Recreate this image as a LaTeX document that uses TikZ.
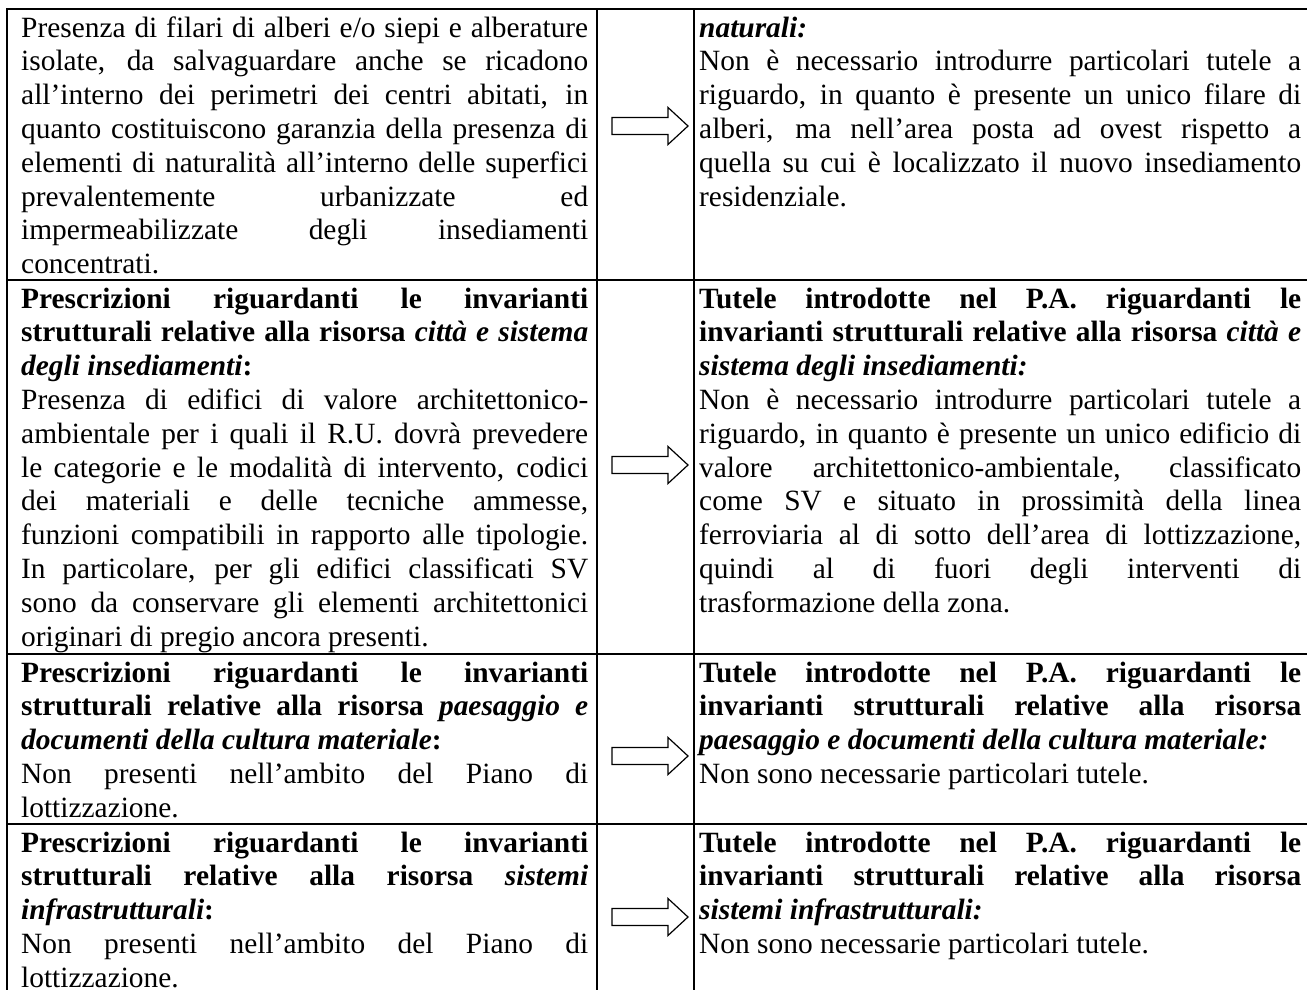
\documentclass[tikz,border=0pt]{standalone}
\usepackage{fontspec}
\setmainfont{Liberation Serif}[Ligatures=CommonOff]
\newcommand\cs{\rule[-7.4pt]{0pt}{33.8pt}}
\newcommand\J[1]{\hbox to\hsize{\cs#1}}
\newcommand\Lf[1]{\hbox{\cs#1}}
\newcommand\bi[1]{\textbf{\textit{#1}}}
\newcommand\cellbox[2]{\vtop{\hsize=#1\baselineskip=33.8pt\lineskip=0pt\lineskiplimit=0pt #2}}
\tikzset{
  cell/.style={anchor=north west, inner sep=0pt, font=\fontsize{29.4}{33.8}\selectfont},
  grid/.style={line width=1.8pt, line cap=rect},
  blockarr/.pic={\draw[line width=1.2pt, fill=white, line join=miter]
    (-38,-8.5) -- (18,-8.5) -- (18,-18.5) -- (38,0) -- (18,18.5) -- (18,8.5) -- (-38,8.5) -- cycle;}
}
\begin{document}
\begin{tikzpicture}[x=1pt,y=-1pt]
\useasboundingbox (0,0) rectangle (1307,989);
% grid
\draw[grid] (7,9) -- (1330,9);
\draw[grid] (7,280) -- (1330,280);
\draw[grid] (7,654) -- (1330,654);
\draw[grid] (7,824) -- (1330,824);
\draw[grid] (7,9) -- (7,1010);
\draw[grid] (597,9) -- (597,1010);
\draw[grid] (694,9) -- (694,1010);
% row 1
\node[cell] (l1) at (21,10.5) {\cellbox{567pt}{%
\J{Presenza di filari di alberi e/o siepi e alberature}
\J{isolate, da salvaguardare anche se ricadono}
\J{all’interno dei perimetri dei centri abitati, in}
\J{quanto costituiscono garanzia della presenza di}
\J{elementi di naturalità all’interno delle superfici}
\J{prevalentemente urbanizzate ed}
\J{impermeabilizzate degli insediamenti}
\Lf{concentrati.}}};
\node[cell] (r1) at (699,10.5) {\cellbox{602pt}{%
\Lf{\bi{naturali:}}
\J{Non è necessario introdurre particolari tutele a}
\J{riguardo, in quanto è presente un unico filare di}
\J{alberi, ma nell’area posta ad ovest rispetto a}
\J{quella su cui è localizzato il nuovo insediamento}
\Lf{residenziale.}}};
% row 2
\node[cell] (l2) at (21,281.5) {\cellbox{567pt}{%
\J{\textbf{Prescrizioni riguardanti le invarianti}}
\J{\textbf{strutturali relative alla risorsa} \bi{città e sistema}}
\Lf{\bi{degli insediamenti}\textbf{:}}
\J{Presenza di edifici di valore architettonico-}
\J{ambientale per i quali il R.U. dovrà prevedere}
\J{le categorie e le modalità di intervento, codici}
\J{dei materiali e delle tecniche ammesse,}
\J{funzioni compatibili in rapporto alle tipologie.}
\J{In particolare, per gli edifici classificati SV}
\J{sono da conservare gli elementi architettonici}
\Lf{originari di pregio ancora presenti.}}};
\node[cell] (r2) at (699,281.5) {\cellbox{602pt}{%
\J{\textbf{Tutele introdotte nel P.A. riguardanti le}}
\J{\textbf{invarianti strutturali relative alla risorsa} \bi{città e}}
\Lf{\bi{sistema degli insediamenti:}}
\J{Non è necessario introdurre particolari tutele a}
\J{riguardo, in quanto è presente un unico edificio di}
\J{valore architettonico-ambientale, classificato}
\J{come SV e situato in prossimità della linea}
\J{ferroviaria al di sotto dell’area di lottizzazione,}
\J{quindi al di fuori degli interventi di}
\Lf{trasformazione della zona.}}};
% row 3
\node[cell] (l3) at (21,655.5) {\cellbox{567pt}{%
\J{\textbf{Prescrizioni riguardanti le invarianti}}
\J{\textbf{strutturali relative alla risorsa} \bi{paesaggio e}}
\Lf{\bi{documenti della cultura materiale}\textbf{:}}
\J{Non presenti nell’ambito del Piano di}
\Lf{lottizzazione.}}};
\node[cell] (r3) at (699,655.5) {\cellbox{602pt}{%
\J{\textbf{Tutele introdotte nel P.A. riguardanti le}}
\J{\textbf{invarianti strutturali relative alla risorsa}}
\Lf{\bi{paesaggio e documenti della cultura materiale:}}
\Lf{Non sono necessarie particolari tutele.}}};
% row 4
\node[cell] (l4) at (21,825.5) {\cellbox{567pt}{%
\J{\textbf{Prescrizioni riguardanti le invarianti}}
\J{\textbf{strutturali relative alla risorsa} \bi{sistemi}}
\Lf{\bi{infrastrutturali}\textbf{:}}
\J{Non presenti nell’ambito del Piano di}
\Lf{lottizzazione.}}};
\node[cell] (r4) at (699,825.5) {\cellbox{602pt}{%
\J{\textbf{Tutele introdotte nel P.A. riguardanti le}}
\J{\textbf{invarianti strutturali relative alla risorsa}}
\Lf{\bi{sistemi infrastrutturali:}}
\Lf{Non sono necessarie particolari tutele.}}};
% arrows
\pic (a1) at (650,126) {blockarr};
\pic (a2) at (650,465) {blockarr};
\pic (a3) at (650,756) {blockarr};
\pic (a4) at (650,917) {blockarr};
\end{tikzpicture}
\end{document}
